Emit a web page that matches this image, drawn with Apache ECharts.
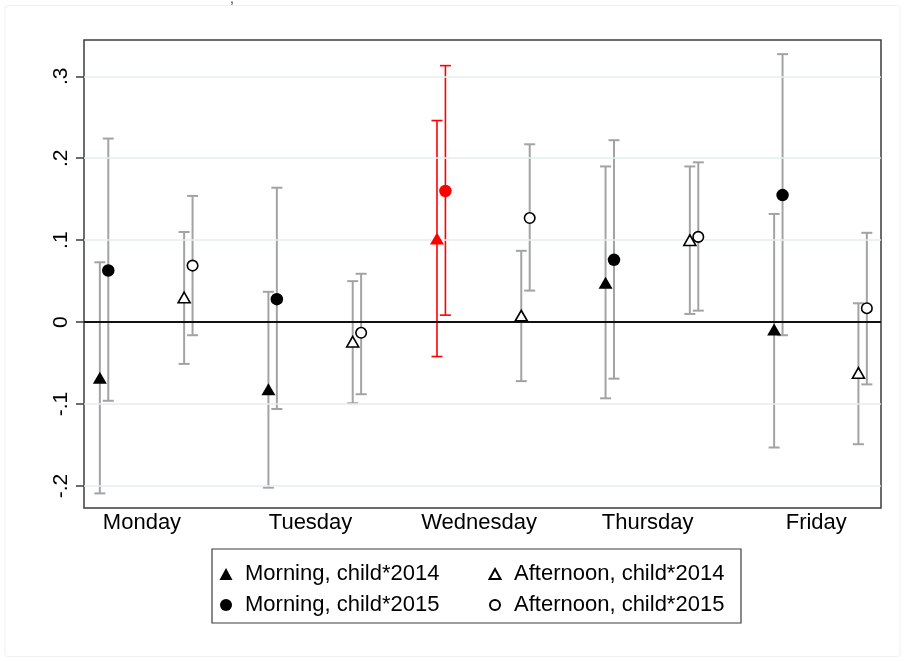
<!DOCTYPE html>
<html>
<head>
<meta charset="utf-8">
<script src="https://cdn.jsdelivr.net/npm/echarts@6/dist/echarts.min.js"></script>
<style>
html,body{margin:0;padding:0;background:#fff;}
#chart{width:905px;height:661px;}
</style>
</head>
<body>
<div id="chart"></div>
<script>
// ---- data ----
const days = ['Monday', 'Tuesday', 'Wednesday', 'Thursday', 'Friday'];

const morning2014   = [-0.068, -0.082, 0.102, 0.048, -0.009];
const morning2014Lo = [-0.209, -0.202, -0.042, -0.093, -0.153];
const morning2014Hi = [0.073, 0.037, 0.246, 0.190, 0.132];
const morning2014Sig = [0, 0, 1, 0, 0];

const morning2015   = [0.063, 0.028, 0.160, 0.076, 0.155];
const morning2015Lo = [-0.096, -0.106, 0.0085, -0.069, -0.016];
const morning2015Hi = [0.224, 0.164, 0.313, 0.222, 0.327];
const morning2015Sig = [0, 0, 1, 0, 0];

const afternoon2014   = [0.030, -0.024, 0.008, 0.100, -0.062];
const afternoon2014Lo = [-0.051, -0.099, -0.072, 0.010, -0.149];
const afternoon2014Hi = [0.110, 0.050, 0.087, 0.190, 0.023];
const afternoon2014Sig = [0, 0, 0, 0, 0];

const afternoon2015   = [0.069, -0.013, 0.127, 0.104, 0.017];
const afternoon2015Lo = [-0.016, -0.088, 0.0385, 0.014, -0.076];
const afternoon2015Hi = [0.154, 0.059, 0.217, 0.195, 0.109];
const afternoon2015Sig = [0, 0, 0, 0, 0];

const yTickValues = [-0.2, -0.1, 0, 0.1, 0.2, 0.3];
const yTickLabels = ['-.2', '-.1', '0', '.1', '.2', '.3'];

const seriesNames = ['Morning, child*2014', 'Morning, child*2015', 'Afternoon, child*2014', 'Afternoon, child*2015'];

// ---- chart ----
const FONT = '"Liberation Sans", Arial, Helvetica, sans-serif';
const RED = '#ff0000';
const GRAY = '#a3a3a3';

const groups = [
  {name: seriesNames[0], v: morning2014, lo: morning2014Lo, hi: morning2014Hi, sig: morning2014Sig, off: -0.25, symbol: 'triangle', size: [14, 12], hollow: false},
  {name: seriesNames[1], v: morning2015, lo: morning2015Lo, hi: morning2015Hi, sig: morning2015Sig, off: -0.20, symbol: 'circle', size: 12.5, hollow: false},
  {name: seriesNames[2], v: afternoon2014, lo: afternoon2014Lo, hi: afternoon2014Hi, sig: afternoon2014Sig, off: 0.25, symbol: 'triangle', size: [12, 10.5], hollow: true},
  {name: seriesNames[3], v: afternoon2015, lo: afternoon2015Lo, hi: afternoon2015Hi, sig: afternoon2015Sig, off: 0.30, symbol: 'circle', size: 10.5, hollow: true}
];

const barData = [];
groups.forEach(g => {
  days.forEach((d, i) => {
    barData.push([i + 1 + g.off, g.lo[i], g.hi[i], g.sig[i]]);
  });
});

const series = [];
series.push({
  type: 'custom',
  name: 'ci',
  z: 2,
  silent: true,
  data: barData,
  renderItem: function (params, api) {
    const x = api.value(0), lo = api.value(1), hi = api.value(2), sig = api.value(3);
    const pLo = api.coord([x, lo]);
    const pHi = api.coord([x, hi]);
    const color = sig ? RED : GRAY;
    const lw = sig ? 1.6 : 2;
    const hw = 5.5;
    const style = {stroke: color, lineWidth: lw, fill: null};
    return {
      type: 'group',
      children: [
        {type: 'line', shape: {x1: pLo[0], y1: pLo[1], x2: pHi[0], y2: pHi[1]}, style: style},
        {type: 'line', shape: {x1: pHi[0] - hw, y1: pHi[1], x2: pHi[0] + hw, y2: pHi[1]}, style: style},
        {type: 'line', shape: {x1: pLo[0] - hw, y1: pLo[1], x2: pLo[0] + hw, y2: pLo[1]}, style: style}
      ]
    };
  }
});

// reference lines (grid + zero)
series.push({
  type: 'line',
  name: 'refs',
  data: [],
  silent: true,
  z: 1,
  markLine: {
    silent: true,
    symbol: 'none',
    label: {show: false},
    animation: false,
    data: yTickValues.filter(v => v !== 0).map(v => ({yAxis: v, lineStyle: {color: '#e6eef1', width: 1.5, type: 'solid'}}))
      .concat([{yAxis: 0, lineStyle: {color: '#111', width: 2, type: 'solid'}}])
  }
});

groups.forEach(g => {
  series.push({
    type: 'scatter',
    name: g.name,
    z: 5,
    symbol: g.symbol,
    symbolSize: g.size,
    itemStyle: g.hollow ? {color: '#ffffff', borderColor: '#000', borderWidth: 1.6, opacity: 1} : {color: '#000', opacity: 1},
    data: days.map((d, i) => {
      const item = {value: [i + 1 + g.off, g.v[i]]};
      if (g.sig[i]) item.itemStyle = {color: RED};
      return item;
    })
  });
});

const chart = echarts.init(document.getElementById('chart'), null, {renderer: 'canvas'});
chart.setOption({
  animation: false,
  backgroundColor: '#fff',
  grid: {left: 84, top: 40, width: 797, height: 468, show: true, borderColor: '#3c3c3c', borderWidth: 1.5, backgroundColor: 'transparent'},
  xAxis: {
    type: 'value',
    min: 0.656,
    max: 5.384,
    axisLine: {show: false},
    axisTick: {show: false},
    splitLine: {show: false},
    axisLabel: {
      customValues: [1, 2, 3, 4, 5],
      formatter: v => days[Math.round(v) - 1],
      fontFamily: FONT, fontSize: 22, color: '#000', margin: 4
    }
  },
  yAxis: {
    type: 'value',
    min: -0.22683,
    max: 0.34427,
    axisLine: {show: false},
    splitLine: {show: false},
    axisTick: {show: true, customValues: yTickValues, length: 8, lineStyle: {color: '#3c3c3c', width: 1.5}},
    axisLabel: {
      customValues: yTickValues,
      rotate: 90,
      formatter: v => { const k = yTickValues.findIndex(t => Math.abs(t - v) < 1e-9); return k >= 0 ? yTickLabels[k] : ''; },
      fontFamily: FONT, fontSize: 21, color: '#000', margin: 12
    }
  },
  legend: [
    {
      data: [seriesNames[0], seriesNames[1]],
      orient: 'vertical',
      left: 219.5, top: 563, padding: 0,
      itemWidth: 13, itemHeight: 12, itemGap: 9,
      selectedMode: false,
      textStyle: {fontFamily: FONT, fontSize: 22, color: '#000', lineHeight: 22, padding: [0, 0, 0, 7.5]}
    },
    {
      data: [seriesNames[2], seriesNames[3]],
      orient: 'vertical',
      left: 488.5, top: 563, padding: 0,
      itemWidth: 11, itemHeight: 10, itemGap: 9,
      selectedMode: false,
      textStyle: {fontFamily: FONT, fontSize: 22, color: '#000', lineHeight: 22, padding: [0, 0, 0, 8.5]}
    }
  ],
  graphic: [
    {type: 'rect', silent: true, shape: {x: 5, y: 5.5, width: 895, height: 651, r: 3}, style: {fill: null, stroke: '#f1f1f1', lineWidth: 1}},
    {type: 'rect', silent: true, shape: {x: 212, y: 549, width: 529, height: 74}, style: {fill: null, stroke: '#3c3c3c', lineWidth: 1.2}},
    {type: 'text', silent: true, left: 230, top: -8, style: {text: ',', font: '14px ' + FONT, fill: '#333'}}
  ],
  series: series
});
</script>
</body>
</html>
